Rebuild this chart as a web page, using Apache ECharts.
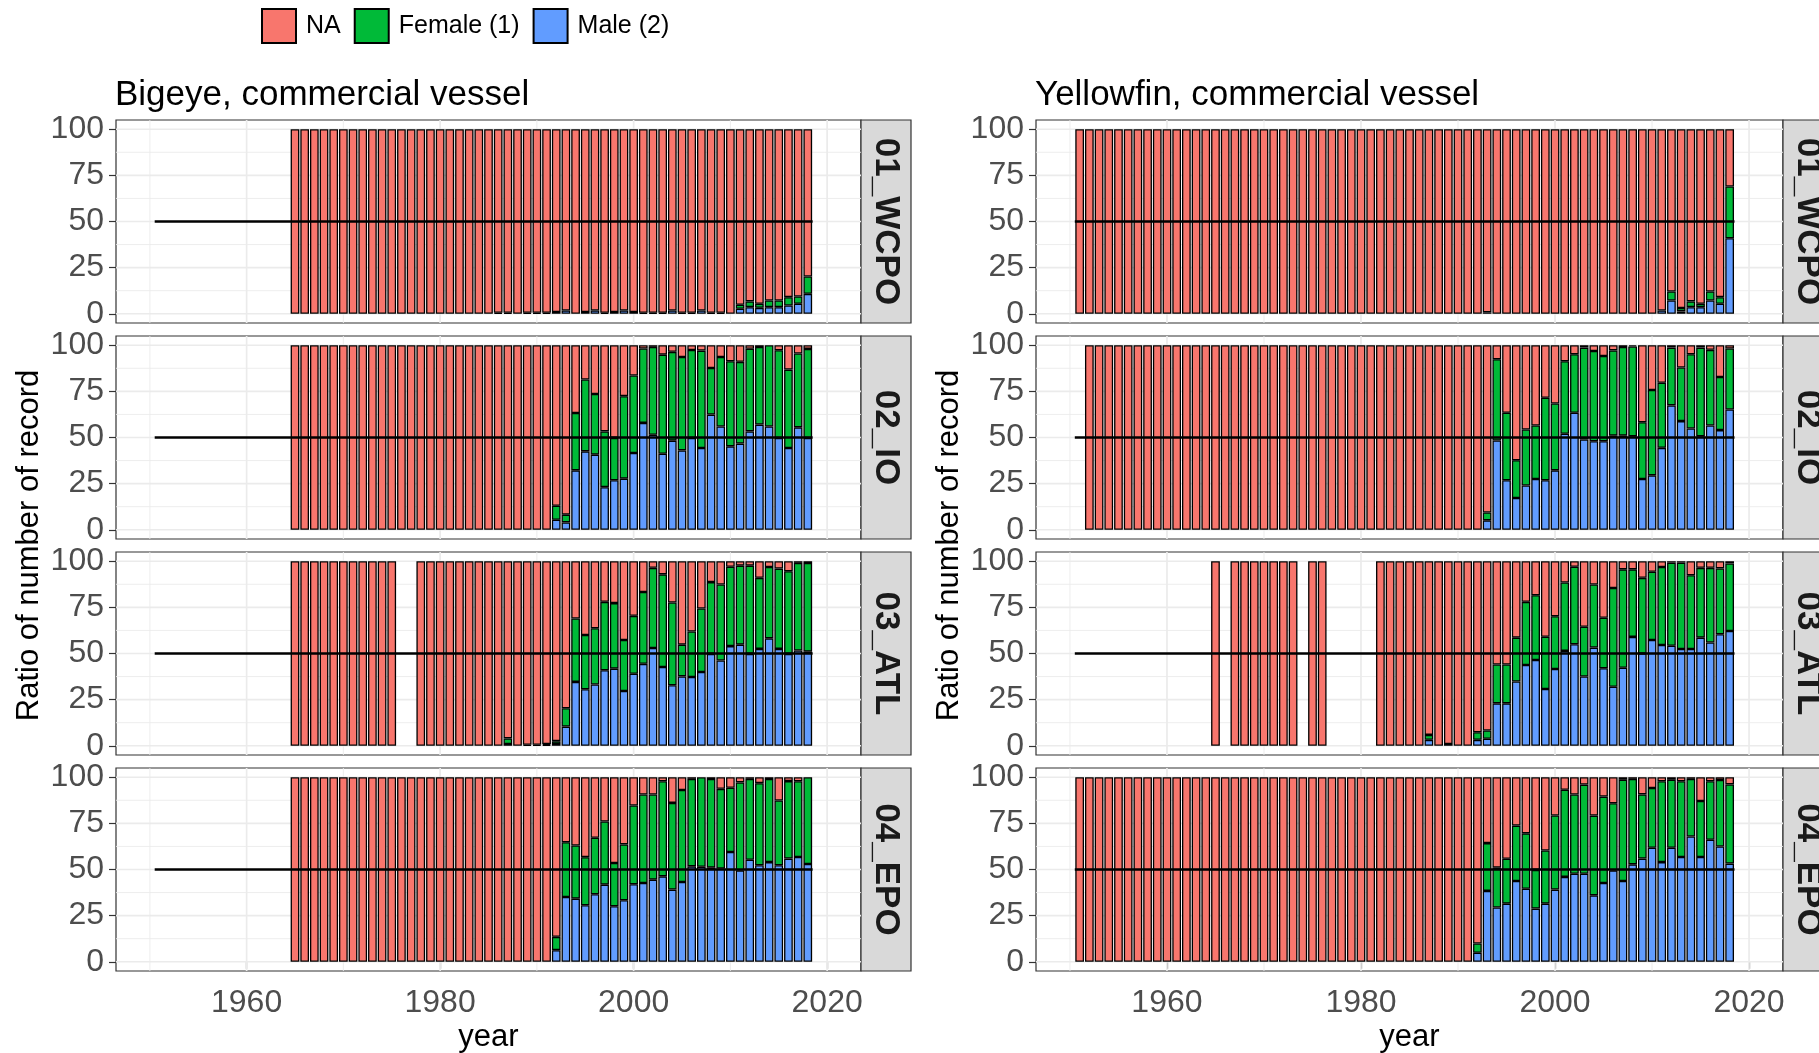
<!DOCTYPE html>
<html>
<head>
<meta charset="utf-8">
<script src="https://cdn.jsdelivr.net/npm/echarts@6/dist/echarts.min.js"></script>
<style>
html,body{margin:0;padding:0;background:#fff;}
#chart{width:1819px;height:1053px;}
</style>
</head>
<body>
<div id="chart"></div>
<script>
// ---------------- data ----------------
function span(a, b) { const r = []; for (let y = a; y <= b; y++) r.push(y); return r; }

const yearCategories = span(1947, 2023);          // x axis: one band per year
const regions = ['01_WCPO', '02_IO', '03_ATL', '04_EPO'];
const speciesTitles = ['Bigeye, commercial vessel', 'Yellowfin, commercial vessel'];
const seriesNames = ['NA', 'Female (1)', 'Male (2)'];
const yTicks = [0, 25, 50, 75, 100];
const yMinorGrid = [12.5, 37.5, 62.5, 87.5];
const xTicks = [1960, 1980, 2000, 2020];
const xMinorGrid = [1950, 1970, 1990, 2010];
const refLine = [1951, 50, 2018];                   // from year, level, to year

// Bigeye WCPO
const bigeyeWcpoYears = span(1965, 2018);
const bigeyeWcpoSexYears = span(1986, 2018);
const bigeyeWcpoMale = [0.5,0.5,0,0.5,0.5, 0.5,1,1.8,0,1, 1.8,0.5,1,1.8,1, 0.5,0.5,0.5,1.8,0.5, 0.5,1.8,0.5,0.5,0, 2.7,3.6,3.2,3.6,3.6, 4.5,5.4,10.8];
const bigeyeWcpoFemale = [0,0,0,0,0, 0,0,0,0,0, 0,0,0,0,0, 0,0,0,0,0, 0,0,0,0,0, 2.2,3.1,2.2,3.6,3.6, 4.5,4,9.4];

// Bigeye IO
const bigeyeIoYears = span(1965, 2018);
const bigeyeIoSexYears = span(1992, 2018);
const bigeyeIoMale = [5.4,4,32.2,42.5,40.7, 23.1,26.8,27.7,41.6,57.9, 51.5,41.2,48.3,43,49.7, 44.3,62.4,56,45.2,46.7, 53.3,57,56,49.7,44.3, 55.5,49.7];
const bigeyeIoFemale = [7.6,4.2,31.1,38.9,32.9, 30.2,23,44.7,42,40.3, 47.6,53.7,48.1,50.6,47.7, 52.8,25.3,37.6,46.1,44.3, 44.8,42,44,47.6,42.5, 40,48.3];

// Bigeye ATL
const bigeyeAtlYears = span(1965, 1975).concat(span(1978, 2018));
const bigeyeAtlSexYears = span(1987, 2018);
const bigeyeAtlMale = [1,0,0.5,0.5,0.5, 1,10.4,34.6,30.6,33.2, 40.9,41.8,29.7,39,44.4, 53,42.7,32.8,37.6,37.3, 40,49.8,46.2,54,54.8, 49.8,52.5,58.2,52.5,49.8, 51.6,51];
const bigeyeAtlFemale = [3,0,0,0,0.5, 1.5,9.9,34.4,29.4,30.5, 37.1,35.5,27.6,31.4,38.9, 43.4,50.2,44.8,17.2,24.6, 34.4,38.9,41.2,43,42.8, 47.8,38.5,38.7,43.5,44.8, 47.5,48];

// Bigeye EPO
const bigeyeEpoYears = span(1965, 2018);
const bigeyeEpoSexYears = span(1992, 2018);
const bigeyeEpoMale = [6.3,35.1,34.2,30.6,36.6, 41.8,30.1,33.3,42,42.7, 44.5,46.3,39.1,43.2,51.7, 51.5,51,50.5,59.5,49.5, 55.3,52.3,54,52.3,55.9, 56.8,53];
const bigeyeEpoFemale = [7.2,29.7,28.8,26.1,30.6, 34.2,23.4,30.3,42.7,47.9, 46.1,51.5,47,49.9,47.4, 48.5,48,43.2,34.8,47.7, 43.8,44.5,45,35.1,42, 41,47];

// Yellowfin WCPO
const yellowfinWcpoYears = span(1951, 2018);
const yellowfinWcpoSexYears = span(1993, 2018);
const yellowfinWcpoMale = [0.8,0,0,0,0, 0,0,0,0,0, 0,0,0,0,0, 0,0,0,1.8,7.2, 1.3,3.6,3.6,7.2,5.4, 40.9];
const yellowfinWcpoFemale = [0,0,0,0,0, 0,0,0,0,0, 0,0,0,0,0, 0,0,0,0,4.9, 1.8,3.1,1.8,4.9,3.6, 28.1];

// Yellowfin IO
const yellowfinIoYears = span(1952, 2018);
const yellowfinIoSexYears = span(1993, 2018);
const yellowfinIoMale = [5.1,48.4,26.8,17.2,24, 27.5,26.8,32.2,52,63.4, 48.9,48,48,51,51, 50.7,27.5,29.5,44.4,67.4, 58.9,54.9,50.7,56.5,54, 65.2];
const yellowfinIoFemale = [4.3,44,36.6,20.5,30.3, 29,44.7,36.2,39.3,31.7, 49.8,48.9,46.2,46.2,48, 48.6,30.8,46.2,35.3,31.3, 29,40.2,48,41,28.8, 33];

// Yellowfin ATL
const yellowfinAtlYears = [1965].concat(span(1967, 1973), [1975, 1976], span(1982, 2018));
const yellowfinAtlSexYears = span(1987, 2018);
const yellowfinAtlMale = [3.2,0,1,0,0, 3.2,3.8,23,23,34.8, 43.8,46.5,30.8,41.6,51.4, 55,37.5,53.2,42,32, 42.3,59,50,57.3,54.6, 54.2,52.4,52.4,58.6,56, 60.4,62.2];
const yellowfinAtlFemale = [2.7,0,0,0,0, 4.1,4.5,21,21,23.8, 34.2,35.1,28.3,28.6,37.1, 42,27,34.2,27.4,53.5, 53.3,36.6,41,37,42.3, 45,46.8,40,37.8,40.4, 35.7,36.6];

// Yellowfin EPO
const yellowfinEpoYears = span(1951, 2018);
const yellowfinEpoSexYears = span(1992, 2018);
const yellowfinEpoMale = [4.9,38.4,29.4,31.5,43.8, 39.6,28.8,31.5,39.1,46, 47.7,47.7,36,42.7,49.5, 43.8,52.8,55.9,61.8,54, 61.8,56.8,67.9,56.8,66.1, 62.5,53.2];
const yellowfinEpoFemale = [5,25.9,21.6,24.3,30, 30,21,28.8,40.2,47.2, 42.9,48.3,43.2,46.8,36.4, 54.8,46.3,34.8,32.4,43.8, 36.8,41,31.2,30.3,31.7, 36,42.9];

// ---------------- layout / style ----------------
const FONT = '"Liberation Sans", Arial, Helvetica, sans-serif';
const COLORS = { 'NA': '#F8766D', 'Female (1)': '#00BA38', 'Male (2)': '#619CFF' };
const Y_MIN = -5, Y_MAX = 105;
const colLeft = [116, 1036];
const colWidth = [745, 747];
const rowTop = [120, 336, 552, 768];
const rowH = 203;
const stripW = 50;
const TICK_FONT = 32;

const panels = [
  { c: 0, r: 0, years: bigeyeWcpoYears, sexYears: bigeyeWcpoSexYears, male: bigeyeWcpoMale, female: bigeyeWcpoFemale },
  { c: 0, r: 1, years: bigeyeIoYears, sexYears: bigeyeIoSexYears, male: bigeyeIoMale, female: bigeyeIoFemale },
  { c: 0, r: 2, years: bigeyeAtlYears, sexYears: bigeyeAtlSexYears, male: bigeyeAtlMale, female: bigeyeAtlFemale },
  { c: 0, r: 3, years: bigeyeEpoYears, sexYears: bigeyeEpoSexYears, male: bigeyeEpoMale, female: bigeyeEpoFemale },
  { c: 1, r: 0, years: yellowfinWcpoYears, sexYears: yellowfinWcpoSexYears, male: yellowfinWcpoMale, female: yellowfinWcpoFemale },
  { c: 1, r: 1, years: yellowfinIoYears, sexYears: yellowfinIoSexYears, male: yellowfinIoMale, female: yellowfinIoFemale },
  { c: 1, r: 2, years: yellowfinAtlYears, sexYears: yellowfinAtlSexYears, male: yellowfinAtlMale, female: yellowfinAtlFemale },
  { c: 1, r: 3, years: yellowfinEpoYears, sexYears: yellowfinEpoSexYears, male: yellowfinEpoMale, female: yellowfinEpoFemale }
];

const catNames = yearCategories.map(String);
// grid line items: [xCategory, yValue, isVertical, isMajor]
const gridLineData = [];
yTicks.forEach(v => gridLineData.push([catNames[0], v, 0, 1]));
yMinorGrid.forEach(v => gridLineData.push([catNames[0], v, 0, 0]));
xTicks.forEach(v => gridLineData.push([String(v), Y_MIN, 1, 1]));
xMinorGrid.forEach(v => gridLineData.push([String(v), Y_MIN, 1, 0]));

function gridRender(params, api) {
  const cs = params.coordSys;
  const vertical = api.value(2) === 1;
  const major = api.value(3) === 1;
  const style = { stroke: '#EBEBEB', lineWidth: major ? 1.7 : 0.9, fill: null };
  if (vertical) {
    const x = api.coord([api.value(0), 50])[0];
    return { type: 'line', shape: { x1: x, y1: cs.y, x2: x, y2: cs.y + cs.height }, style };
  }
  const y = api.coord([api.value(0), api.value(1)])[1];
  return { type: 'line', shape: { x1: cs.x, y1: y, x2: cs.x + cs.width, y2: y }, style };
}

function refRender(params, api) {
  const half = api.size([1, 0])[0] / 2;
  const p1 = api.coord([api.value(0), api.value(1)]);
  const p2 = api.coord([api.value(2), api.value(1)]);
  return { type: 'line', shape: { x1: p1[0] - half, y1: p1[1], x2: p2[0] + half, y2: p2[1] },
           style: { stroke: '#000', lineWidth: 2.6, fill: null } };
}

const isTickYear = (idx, val) => xTicks.indexOf(+val) >= 0;

const option = {
  animation: false,
  backgroundColor: '#ffffff',
  textStyle: { fontFamily: FONT },
  legend: {
    data: seriesNames,
    left: 261, top: 8, padding: 0,
    icon: 'rect',
    itemWidth: 34, itemHeight: 34, itemGap: 13,
    selectedMode: false,
    textStyle: { fontSize: 25, color: '#000', fontFamily: FONT, padding: [0, 0, 0, 5] }
  },
  title: speciesTitles.map((t, c) => ({
    text: t, left: colLeft[c] - 1, top: 78, padding: 0,
    textStyle: { fontSize: 35, fontWeight: 'normal', color: '#000', fontFamily: FONT }
  })),
  grid: [], xAxis: [], yAxis: [], series: [], graphic: []
};

panels.forEach((p, i) => {
  option.grid.push({
    left: colLeft[p.c], top: rowTop[p.r], width: colWidth[p.c], height: rowH,
    show: true, borderColor: '#333333', borderWidth: 1.2, backgroundColor: 'transparent',
    containLabel: false, outerBoundsMode: 'none'
  });
  const bottom = p.r === 3;
  option.xAxis.push({
    gridIndex: i, type: 'category', data: catNames, boundaryGap: true,
    axisLine: { show: false },
    axisTick: { show: bottom, alignWithLabel: true, interval: isTickYear, length: 7, lineStyle: { color: '#333333', width: 1.2 } },
    axisLabel: { show: bottom, interval: isTickYear, margin: 16, fontSize: TICK_FONT, color: '#4D4D4D', fontFamily: FONT },
    splitLine: { show: false }
  });
  option.yAxis.push({
    gridIndex: i, type: 'value', min: Y_MIN, max: Y_MAX,
    axisLine: { show: false },
    axisTick: { show: true, customValues: yTicks, length: 7, lineStyle: { color: '#333333', width: 1.2 } },
    axisLabel: { customValues: yTicks, margin: 12, fontSize: TICK_FONT, color: '#4D4D4D', fontFamily: FONT },
    splitLine: { show: false }, minorSplitLine: { show: false }
  });

  // background grid lines (positioned through the axes' scales)
  option.series.push({
    type: 'custom', xAxisIndex: i, yAxisIndex: i, z: 1, silent: true,
    encode: { x: 0, y: 1 }, data: gridLineData, renderItem: gridRender
  });

  const maleMap = {}, femaleMap = {}, hasBar = {};
  p.sexYears.forEach((y, k) => { maleMap[y] = p.male[k]; femaleMap[y] = p.female[k]; });
  p.years.forEach(y => { hasBar[y] = true; });
  const mData = [], fData = [], nData = [];
  yearCategories.forEach(y => {
    if (!hasBar[y]) { mData.push(null); fData.push(null); nData.push(null); return; }
    const m = maleMap[y] || 0, f = femaleMap[y] || 0;
    const na = Math.max(0, +(100 - m - f).toFixed(2));
    mData.push(m > 0 ? m : null);
    fData.push(f > 0 ? f : null);
    nData.push(na > 0 ? na : null);
  });
  [['Male (2)', mData], ['Female (1)', fData], ['NA', nData]].forEach(([name, data]) => {
    option.series.push({
      type: 'bar', name, xAxisIndex: i, yAxisIndex: i, stack: 'st' + i,
      barWidth: '90%', data, z: 2, silent: true,
      itemStyle: { color: COLORS[name], borderColor: '#000000', borderWidth: 1.3 },
      emphasis: { disabled: true }
    });
  });
  option.series.push({
    type: 'custom', xAxisIndex: i, yAxisIndex: i, z: 5, silent: true,
    dimensions: ['from', 'level', 'to'],
    encode: { x: [0, 2], y: 1 },
    data: [[String(refLine[0]), refLine[1], String(refLine[2])]], renderItem: refRender
  });

  // facet strip
  const sx = colLeft[p.c] + colWidth[p.c];
  option.graphic.push({
    type: 'rect', x: sx, y: rowTop[p.r], shape: { width: stripW, height: rowH },
    style: { fill: '#D9D9D9', stroke: '#333333', lineWidth: 1.2 }, silent: true
  });
  option.graphic.push({
    type: 'text', x: sx + stripW / 2, y: rowTop[p.r] + rowH / 2, rotation: -Math.PI / 2,
    style: { text: regions[p.r], fill: '#1A1A1A', font: 'bold 35px ' + FONT, align: 'center', verticalAlign: 'middle' },
    silent: true
  });
});

[0, 1].forEach(c => {
  option.graphic.push({
    type: 'text', x: c === 0 ? 29 : 949, y: (rowTop[0] + rowTop[3] + rowH) / 2, rotation: Math.PI / 2,
    style: { text: 'Ratio of number of record', fill: '#000', font: '31px ' + FONT, align: 'center', verticalAlign: 'middle' },
    silent: true
  });
  option.graphic.push({
    type: 'text', x: colLeft[c] + colWidth[c] / 2, y: 1037,
    style: { text: 'year', fill: '#000', font: '31px ' + FONT, align: 'center', verticalAlign: 'middle' },
    silent: true
  });
});

const chart = echarts.init(document.getElementById('chart'), null, { renderer: 'canvas' });
chart.setOption(option);
</script>
</body>
</html>
